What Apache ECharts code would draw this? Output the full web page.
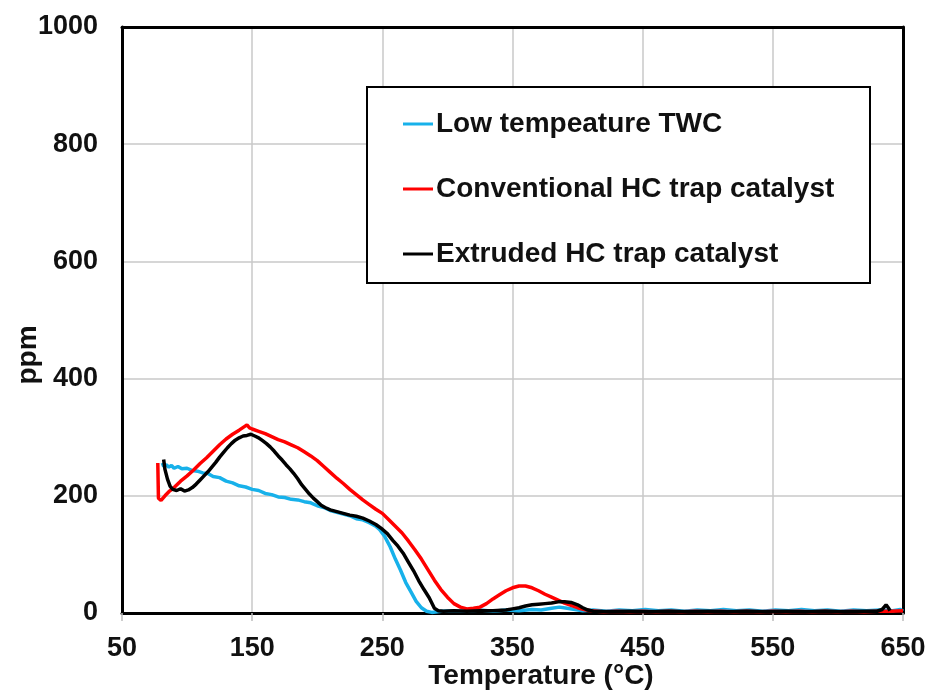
<!DOCTYPE html>
<html>
<head>
<meta charset="utf-8">
<script src="https://cdn.jsdelivr.net/npm/echarts@6/dist/echarts.min.js"></script>
<style>
html,body{margin:0;padding:0;background:#fff;}
#chart{width:929px;height:692px;}
</style>
</head>
<body>
<div id="chart"></div>
<script>
// ---- data (Temperature °C, ppm) ----
var seriesNames = ['Low tempeature TWC', 'Conventional HC trap catalyst', 'Extruded HC trap catalyst'];
var xTicks = [50, 150, 250, 350, 450, 550, 650];
var yTicks = [0, 200, 400, 600, 800, 1000];

var lowTempTWC = [
  [81,256],[82,250],[84,253],[86,249],[88,252],[90,247],[93,250],[96,246],[100,247],[104,243],
  [108,242],[112,239],[116,238],[120,233],[125,231],[130,225],[135,222],[140,217],[145,215],[150,211],
  [155,209],[160,204],[165,202],[170,198],[175,197],[180,194],[185,193],[190,190],[195,188],[200,183],
  [205,180],[210,175],[215,172],[220,169],[225,166],[230,161],[235,159],[240,154],[245,148],[248,142],
  [252,130],[256,113],[260,92],[264,73],[268,52],[272,36],[276,20],[280,9],[284,3],[288,1],
  [295,3],[305,4],[315,3],[325,5],[335,3],[345,5],[355,4],[365,6],[372,5],[380,8],
  [386,10],[392,8],[398,6],[404,4],[412,5],[422,3],[432,5],[442,4],[452,6],[462,4],
  [472,5],[482,3],[492,5],[502,4],[512,6],[522,4],[532,5],[542,3],[552,5],[562,4],
  [572,6],[582,4],[592,5],[602,3],[612,5],[622,4],[632,5],[642,4],[648,6],[650,3]
];

var conventionalHC = [
  [77.5,256],[78,196],[80,192],[83,200],[86,207],[90,214],[95,225],[100,234],[105,244],[110,255],
  [115,265],[120,276],[125,287],[130,297],[135,305],[140,312],[144,318],[146,321],[148,316],[150,314],
  [155,310],[160,306],[165,301],[170,296],[175,292],[180,287],[185,282],[190,275],[195,268],[200,260],
  [205,250],[210,240],[215,230],[220,221],[225,211],[230,202],[235,193],[240,185],[245,177],[250,170],
  [255,159],[260,148],[265,137],[270,123],[275,108],[280,92],[285,74],[290,56],[295,40],[300,27],
  [305,16],[310,10],[315,7],[320,8],[325,10],[330,16],[335,24],[340,31],[345,38],[350,43],
  [355,46],[360,46],[365,43],[370,38],[375,32],[380,27],[385,22],[390,17],[395,13],[400,9],
  [405,6],[410,4],[420,2],[430,3],[440,2],[450,3],[460,2],[470,3],[480,2],[490,3],
  [500,2],[510,3],[520,2],[530,3],[540,2],[550,3],[560,2],[570,3],[580,2],[590,3],
  [600,2],[610,3],[620,2],[630,3],[640,3],[650,4]
];

var extrudedHC = [
  [82,262],[83,245],[85,228],[87,216],[89,211],[92,209],[95,212],[98,208],[101,210],[104,214],
  [107,220],[110,227],[113,234],[116,241],[119,249],[122,257],[125,266],[128,274],[131,282],[134,289],
  [137,295],[140,299],[143,302],[146,303],[149,305],[152,302],[155,299],[158,294],[161,289],[164,283],
  [167,276],[170,268],[173,261],[176,253],[179,246],[182,238],[185,229],[188,219],[191,211],[194,203],
  [197,196],[200,190],[203,184],[206,180],[210,176],[215,173],[220,170],[225,167],[230,165],[235,162],
  [240,157],[245,151],[250,143],[254,135],[258,124],[262,114],[266,102],[270,87],[274,72],[278,55],
  [282,40],[286,26],[290,8],[293,4],[297,3],[305,4],[315,3],[325,4],[335,4],[345,5],
  [350,7],[355,9],[360,12],[365,14],[370,15],[375,16],[380,17],[385,19],[390,19],[395,18],
  [400,14],[404,9],[408,5],[412,3],[425,2],[440,3],[455,2],[470,3],[485,2],[500,3],
  [515,2],[530,3],[545,2],[560,3],[575,2],[590,3],[605,2],[620,3],[630,3],[634,6],
  [637,14],[639,8],[640,4]
];

var chart = echarts.init(document.getElementById('chart'));
var font = 'Liberation Sans, Arial, sans-serif';
var frameAxis = {show: true, onZero: false, lineStyle: {color: '#000', width: 3}};
var option = {
  animation: false,
  backgroundColor: '#fff',
  grid: {left: 122, top: 27, right: 26, bottom: 79},
  xAxis: [{
    type: 'value', min: xTicks[0], max: xTicks[xTicks.length-1], interval: 100,
    axisLine: frameAxis,
    axisTick: {show: true, length: 8, lineStyle: {color: '#bdbdbd', width: 1.5}},
    splitLine: {show: true, lineStyle: {color: '#c8c8c8', width: 1.5}},
    axisLabel: {margin: 22, color: '#111', fontFamily: font, fontWeight: 'bold', fontSize: 27,
      formatter: function (v) { return String(v); }}
  }, {
    type: 'value', position: 'top', min: xTicks[0], max: xTicks[xTicks.length-1],
    axisLine: frameAxis, axisTick: {show: false}, axisLabel: {show: false}, splitLine: {show: false}
  }],
  yAxis: [{
    type: 'value', min: yTicks[0], max: yTicks[yTicks.length-1], interval: 200,
    axisLine: frameAxis,
    axisTick: {show: false},
    splitLine: {show: true, lineStyle: {color: '#c8c8c8', width: 1.5}},
    axisLabel: {margin: 24, color: '#111', fontFamily: font, fontWeight: 'bold', fontSize: 27,
      formatter: function (v) { return String(v); }}
  }, {
    type: 'value', position: 'right', min: yTicks[0], max: yTicks[yTicks.length-1],
    axisLine: frameAxis, axisTick: {show: false}, axisLabel: {show: false}, splitLine: {show: false}
  }],
  legend: {
    orient: 'vertical', left: 403, top: 109, z: 10, padding: 0,
    icon: 'rect', itemWidth: 30, itemHeight: 3, itemGap: 35,
    textStyle: {color: '#111', fontFamily: font, fontWeight: 'bold', fontSize: 28, lineHeight: 30, padding: [0, 0, 0, -2]},
    data: seriesNames
  },
  graphic: [
    {type: 'rect', z: 5, shape: {x: 367, y: 87, width: 503, height: 196},
     style: {fill: '#fff', stroke: '#000', lineWidth: 2}},
    {type: 'text', z: 5, x: 541, y: 676,
     style: {text: 'Temperature (°C)', fill: '#111', font: 'bold 28px ' + font, textAlign: 'center', textVerticalAlign: 'middle'}},
    {type: 'text', z: 5, x: 28, y: 355, rotation: Math.PI/2,
     style: {text: 'ppm', fill: '#111', font: 'bold 28px ' + font, textAlign: 'center', textVerticalAlign: 'middle'}}
  ],
  series: [
    {name: seriesNames[0], type: 'line', data: lowTempTWC, showSymbol: false, symbol: 'none',
     lineStyle: {color: '#17B1EA', width: 3.5}, itemStyle: {color: '#17B1EA'}, z: 2},
    {name: seriesNames[1], type: 'line', data: conventionalHC, showSymbol: false, symbol: 'none',
     lineStyle: {color: '#FF0000', width: 3.5}, itemStyle: {color: '#FF0000'}, z: 3},
    {name: seriesNames[2], type: 'line', data: extrudedHC, showSymbol: false, symbol: 'none',
     lineStyle: {color: '#000000', width: 3.5}, itemStyle: {color: '#000000'}, z: 4}
  ]
};
chart.setOption(option);
</script>
</body>
</html>
